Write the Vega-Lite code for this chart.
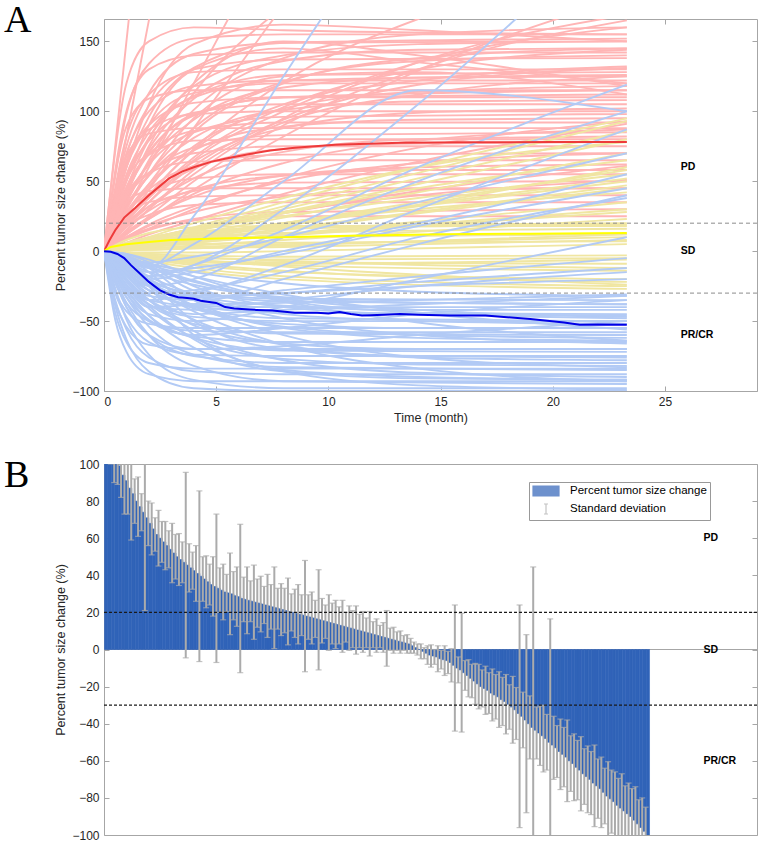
{
"$schema": "https://vega.github.io/schema/vega-lite/v6.json",
"padding": {"left": 3, "top": 1, "right": 0, "bottom": 0},
"spacing": 32,
"resolve": {"scale": {"color": "independent"}, "legend": {"color": "independent"}},
"config": {
 "view": {"stroke": "#A6A6A6", "strokeWidth": 1},
 "axis": {"labelFont": "Liberation Sans", "labelFontSize": 12, "labelColor": "#262626", "titleFont": "Liberation Sans", "titleFontSize": 12.5, "titleFontWeight": "normal", "titleColor": "#262626", "domain": false, "tickColor": "#A6A6A6", "tickSize": -5, "labelPadding": 10, "grid": false, "titlePadding": 4},
 "text": {"font": "Liberation Sans"}
},
"datasets": {
"pd": [
{"c":1,"t":0,"y":0},{"c":1,"t":1,"y":150},{"c":1,"t":2,"y":300},
{"c":2,"t":0,"y":0},{"c":2,"t":1,"y":82},{"c":2,"t":2,"y":165},{"c":2,"t":4,"y":330},
{"c":3,"t":0,"y":0},{"c":3,"t":1,"y":75},{"c":3,"t":2,"y":113},{"c":3,"t":4,"y":141},{"c":3,"t":8,"y":149},{"c":3,"t":23.3,"y":150},
{"c":4,"t":0,"y":0},{"c":4,"t":1,"y":60},{"c":4,"t":2,"y":96},{"c":4,"t":4,"y":131},{"c":4,"t":8,"y":149},{"c":4,"t":23.3,"y":152},
{"c":5,"t":0,"y":0},{"c":5,"t":1,"y":43},{"c":5,"t":2,"y":73},{"c":5,"t":4,"y":109},{"c":5,"t":8,"y":136},{"c":5,"t":14,"y":144},{"c":5,"t":23.3,"y":145},
{"c":6,"t":0,"y":0},{"c":6,"t":1,"y":31},{"c":6,"t":2,"y":55},{"c":6,"t":4,"y":88},{"c":6,"t":8,"y":121},{"c":6,"t":14,"y":136},{"c":6,"t":23.3,"y":140},
{"c":7,"t":0,"y":0},{"c":7,"t":1,"y":82},{"c":7,"t":2,"y":112},{"c":7,"t":4,"y":128},{"c":7,"t":8,"y":130},{"c":7,"t":23.3,"y":130},
{"c":8,"t":0,"y":0},{"c":8,"t":1,"y":50},{"c":8,"t":2,"y":81},{"c":8,"t":4,"y":111},{"c":8,"t":8,"y":126},{"c":8,"t":23.3,"y":128},
{"c":9,"t":0,"y":0},{"c":9,"t":1,"y":37},{"c":9,"t":2,"y":63},{"c":9,"t":4,"y":94},{"c":9,"t":8,"y":117},{"c":9,"t":14,"y":124},{"c":9,"t":23.3,"y":125},
{"c":10,"t":0,"y":0},{"c":10,"t":1,"y":60},{"c":10,"t":2,"y":90},{"c":10,"t":4,"y":113},{"c":10,"t":8,"y":120},{"c":10,"t":23.3,"y":120},
{"c":11,"t":0,"y":0},{"c":11,"t":1,"y":26},{"c":11,"t":2,"y":46},{"c":11,"t":4,"y":75},{"c":11,"t":8,"y":102},{"c":11,"t":14,"y":114},{"c":11,"t":23.3,"y":118},
{"c":12,"t":0,"y":0},{"c":12,"t":1,"y":89},{"c":12,"t":2,"y":109},{"c":12,"t":4,"y":115},{"c":12,"t":8,"y":115},{"c":12,"t":23.3,"y":115},
{"c":13,"t":0,"y":0},{"c":13,"t":1,"y":44},{"c":13,"t":2,"y":71},{"c":13,"t":4,"y":97},{"c":13,"t":8,"y":110},{"c":13,"t":23.3,"y":112},
{"c":14,"t":0,"y":0},{"c":14,"t":1,"y":32},{"c":14,"t":2,"y":54},{"c":14,"t":4,"y":81},{"c":14,"t":8,"y":101},{"c":14,"t":14,"y":107},{"c":14,"t":23.3,"y":108},
{"c":15,"t":0,"y":0},{"c":15,"t":1,"y":53},{"c":15,"t":2,"y":79},{"c":15,"t":4,"y":99},{"c":15,"t":8,"y":105},{"c":15,"t":23.3,"y":105},
{"c":16,"t":0,"y":0},{"c":16,"t":1,"y":23},{"c":16,"t":2,"y":40},{"c":16,"t":4,"y":64},{"c":16,"t":8,"y":88},{"c":16,"t":14,"y":99},{"c":16,"t":23.3,"y":102},
{"c":17,"t":0,"y":0},{"c":17,"t":1,"y":63},{"c":17,"t":2,"y":87},{"c":17,"t":4,"y":98},{"c":17,"t":8,"y":100},{"c":17,"t":23.3,"y":100},
{"c":18,"t":0,"y":0},{"c":18,"t":1,"y":39},{"c":18,"t":2,"y":62},{"c":18,"t":4,"y":85},{"c":18,"t":8,"y":96},{"c":18,"t":23.3,"y":98},
{"c":19,"t":0,"y":0},{"c":19,"t":1,"y":28},{"c":19,"t":2,"y":48},{"c":19,"t":4,"y":72},{"c":19,"t":8,"y":89},{"c":19,"t":14,"y":94},{"c":19,"t":23.3,"y":95},
{"c":20,"t":0,"y":0},{"c":20,"t":1,"y":46},{"c":20,"t":2,"y":69},{"c":20,"t":4,"y":86},{"c":20,"t":8,"y":92},{"c":20,"t":23.3,"y":92},
{"c":21,"t":0,"y":0},{"c":21,"t":1,"y":13},{"c":21,"t":2,"y":23},{"c":21,"t":4,"y":41},{"c":21,"t":8,"y":63},{"c":21,"t":14,"y":79},{"c":21,"t":23.3,"y":87},
{"c":22,"t":0,"y":0},{"c":22,"t":1,"y":68},{"c":22,"t":2,"y":84},{"c":22,"t":4,"y":88},{"c":22,"t":8,"y":88},{"c":22,"t":23.3,"y":88},
{"c":23,"t":0,"y":0},{"c":23,"t":1,"y":33},{"c":23,"t":2,"y":54},{"c":23,"t":4,"y":74},{"c":23,"t":8,"y":83},{"c":23,"t":23.3,"y":85},
{"c":24,"t":0,"y":0},{"c":24,"t":1,"y":18},{"c":24,"t":2,"y":32},{"c":24,"t":4,"y":52},{"c":24,"t":8,"y":71},{"c":24,"t":14,"y":80},{"c":24,"t":23.3,"y":82},
{"c":25,"t":0,"y":0},{"c":25,"t":1,"y":51},{"c":25,"t":2,"y":69},{"c":25,"t":4,"y":79},{"c":25,"t":8,"y":80},{"c":25,"t":23.3,"y":80},
{"c":26,"t":0,"y":0},{"c":26,"t":1,"y":23},{"c":26,"t":2,"y":39},{"c":26,"t":4,"y":59},{"c":26,"t":8,"y":73},{"c":26,"t":14,"y":77},{"c":26,"t":23.3,"y":78},
{"c":27,"t":0,"y":0},{"c":27,"t":1,"y":38},{"c":27,"t":2,"y":56},{"c":27,"t":4,"y":70},{"c":27,"t":8,"y":75},{"c":27,"t":23.3,"y":75},
{"c":28,"t":0,"y":0},{"c":28,"t":1,"y":10},{"c":28,"t":2,"y":19},{"c":28,"t":4,"y":32},{"c":28,"t":8,"y":50},{"c":28,"t":14,"y":63},{"c":28,"t":23.3,"y":70},
{"c":29,"t":0,"y":0},{"c":29,"t":1,"y":28},{"c":29,"t":2,"y":44},{"c":29,"t":4,"y":61},{"c":29,"t":8,"y":69},{"c":29,"t":23.3,"y":70},
{"c":30,"t":0,"y":0},{"c":30,"t":1,"y":41},{"c":30,"t":2,"y":56},{"c":30,"t":4,"y":64},{"c":30,"t":8,"y":65},{"c":30,"t":23.3,"y":65},
{"c":31,"t":0,"y":0},{"c":31,"t":1,"y":14},{"c":31,"t":2,"y":24},{"c":31,"t":4,"y":39},{"c":31,"t":8,"y":54},{"c":31,"t":14,"y":60},{"c":31,"t":23.3,"y":62},
{"c":32,"t":0,"y":0},{"c":32,"t":1,"y":17},{"c":32,"t":2,"y":29},{"c":32,"t":4,"y":44},{"c":32,"t":8,"y":54},{"c":32,"t":14,"y":58},{"c":32,"t":23.3,"y":58},
{"c":33,"t":0,"y":0},{"c":33,"t":1,"y":28},{"c":33,"t":2,"y":41},{"c":33,"t":4,"y":52},{"c":33,"t":8,"y":55},{"c":33,"t":23.3,"y":55},
{"c":34,"t":0,"y":0},{"c":34,"t":1,"y":20},{"c":34,"t":2,"y":32},{"c":34,"t":4,"y":43},{"c":34,"t":8,"y":49},{"c":34,"t":23.3,"y":50},
{"c":35,"t":0,"y":0},{"c":35,"t":1,"y":10},{"c":35,"t":2,"y":18},{"c":35,"t":4,"y":28},{"c":35,"t":8,"y":39},{"c":35,"t":14,"y":44},{"c":35,"t":23.3,"y":45},
{"c":36,"t":0,"y":0},{"c":36,"t":1,"y":25},{"c":36,"t":2,"y":35},{"c":36,"t":4,"y":39},{"c":36,"t":8,"y":40},{"c":36,"t":23.3,"y":40},
{"c":37,"t":0,"y":0},{"c":37,"t":1,"y":19},{"c":37,"t":2,"y":35},{"c":37,"t":4,"y":61},{"c":37,"t":8,"y":94},{"c":37,"t":14,"y":119},{"c":37,"t":23.3,"y":131},
{"c":38,"t":0,"y":0},{"c":38,"t":1,"y":35},{"c":38,"t":2,"y":63},{"c":38,"t":4,"y":101},{"c":38,"t":8,"y":138},{"c":38,"t":14,"y":155},{"c":38,"t":23.3,"y":160},
{"c":39,"t":0,"y":0},{"c":39,"t":1,"y":98},{"c":39,"t":2,"y":134},{"c":39,"t":4,"y":152},{"c":39,"t":8,"y":155},{"c":39,"t":23.3,"y":155},
{"c":40,"t":0,"y":0},{"c":40,"t":1,"y":69},{"c":40,"t":2,"y":104},{"c":40,"t":4,"y":130},{"c":40,"t":8,"y":137},{"c":40,"t":23.3,"y":138},
{"c":41,"t":0,"y":0},{"c":41,"t":1,"y":21},{"c":41,"t":2,"y":38},{"c":41,"t":4,"y":67},{"c":41,"t":8,"y":103},{"c":41,"t":14,"y":130},{"c":41,"t":23.3,"y":144},
{"c":42,"t":0,"y":0},{"c":42,"t":1,"y":40},{"c":42,"t":2,"y":75},{"c":42,"t":4,"y":120},{"c":42,"t":8,"y":150},{"c":42,"t":14,"y":140},{"c":42,"t":23.3,"y":118},
{"c":43,"t":0,"y":0},{"c":43,"t":1,"y":50},{"c":43,"t":2,"y":90},{"c":43,"t":4,"y":130},{"c":43,"t":8,"y":145},{"c":43,"t":14,"y":135},{"c":43,"t":23.3,"y":120},
{"c":44,"t":0,"y":0},{"c":44,"t":1,"y":30},{"c":44,"t":2,"y":55},{"c":44,"t":4,"y":95},{"c":44,"t":8,"y":125},{"c":44,"t":14,"y":128},{"c":44,"t":23.3,"y":112},
{"c":45,"t":0,"y":0},{"c":45,"t":1,"y":30},{"c":45,"t":2,"y":60},{"c":45,"t":4,"y":120},{"c":45,"t":8,"y":240},
{"c":46,"t":0,"y":0},{"c":46,"t":1,"y":22},{"c":46,"t":2,"y":44},{"c":46,"t":4,"y":88},{"c":46,"t":8,"y":176},
{"c":47,"t":0,"y":0},{"c":47,"t":1,"y":35},{"c":47,"t":2,"y":65},{"c":47,"t":4,"y":113},{"c":47,"t":8,"y":175},{"c":47,"t":14,"y":230},
{"c":48,"t":0,"y":0},{"c":48,"t":1,"y":21},{"c":48,"t":2,"y":40},{"c":48,"t":4,"y":73},{"c":48,"t":8,"y":121},{"c":48,"t":14,"y":166},{"c":48,"t":23.3,"y":199},
{"c":49,"t":0,"y":0},{"c":49,"t":1,"y":12},{"c":49,"t":2,"y":23},{"c":49,"t":4,"y":44},{"c":49,"t":8,"y":82},{"c":49,"t":14,"y":129},{"c":49,"t":23.3,"y":182},
{"c":50,"t":0,"y":0},{"c":50,"t":1,"y":15},{"c":50,"t":2,"y":30},{"c":50,"t":4,"y":55},{"c":50,"t":8,"y":95},{"c":50,"t":14,"y":135},{"c":50,"t":23.3,"y":169},
{"c":51,"t":0,"y":0},{"c":51,"t":1,"y":18},{"c":51,"t":2,"y":26},{"c":51,"t":4,"y":33},{"c":51,"t":8,"y":35},{"c":51,"t":23.3,"y":35},
{"c":52,"t":0,"y":0},{"c":52,"t":1,"y":9},{"c":52,"t":2,"y":15},{"c":52,"t":4,"y":23},{"c":52,"t":8,"y":28},{"c":52,"t":23.3,"y":30},
{"c":53,"t":0,"y":0},{"c":53,"t":1,"y":5},{"c":53,"t":2,"y":9},{"c":53,"t":4,"y":16},{"c":53,"t":8,"y":28},{"c":53,"t":14,"y":40},{"c":53,"t":23.3,"y":51},
{"c":54,"t":0,"y":0},{"c":54,"t":1,"y":4},{"c":54,"t":2,"y":8},{"c":54,"t":4,"y":15},{"c":54,"t":8,"y":27},{"c":54,"t":14,"y":43},{"c":54,"t":23.3,"y":61},
{"c":55,"t":0,"y":0},{"c":55,"t":1,"y":35},{"c":55,"t":2,"y":43},{"c":55,"t":4,"y":45},{"c":55,"t":8,"y":45},{"c":55,"t":23.3,"y":45},
{"c":56,"t":0,"y":0},{"c":56,"t":1,"y":8},{"c":56,"t":2,"y":16},{"c":56,"t":4,"y":30},{"c":56,"t":8,"y":52},{"c":56,"t":14,"y":74},{"c":56,"t":23.3,"y":93},
{"c":57,"t":0,"y":0},{"c":57,"t":1,"y":6},{"c":57,"t":2,"y":12},{"c":57,"t":4,"y":22},{"c":57,"t":8,"y":41},{"c":57,"t":14,"y":64},{"c":57,"t":23.3,"y":91},
{"c":58,"t":0,"y":0},{"c":58,"t":1,"y":10},{"c":58,"t":2,"y":16},{"c":58,"t":4,"y":22},{"c":58,"t":8,"y":25},{"c":58,"t":23.3,"y":25},
{"c":59,"t":0,"y":0},{"c":59,"t":1,"y":45},{"c":59,"t":2,"y":80},{"c":59,"t":4,"y":118},{"c":59,"t":8,"y":140},{"c":59,"t":14,"y":148},{"c":59,"t":23.3,"y":150},
{"c":60,"t":0,"y":0},{"c":60,"t":1,"y":25},{"c":60,"t":2,"y":48},{"c":60,"t":4,"y":85},{"c":60,"t":8,"y":120},{"c":60,"t":14,"y":138},{"c":60,"t":23.3,"y":145},
{"c":61,"t":0,"y":0},{"c":61,"t":1,"y":55},{"c":61,"t":2,"y":85},{"c":61,"t":4,"y":110},{"c":61,"t":8,"y":122},{"c":61,"t":23.3,"y":126},
{"c":62,"t":0,"y":0},{"c":62,"t":1,"y":20},{"c":62,"t":2,"y":40},{"c":62,"t":4,"y":72},{"c":62,"t":8,"y":105},{"c":62,"t":14,"y":122},{"c":62,"t":23.3,"y":132},
{"c":63,"t":0,"y":0},{"c":63,"t":1,"y":70},{"c":63,"t":2,"y":100},{"c":63,"t":4,"y":118},{"c":63,"t":8,"y":122},{"c":63,"t":23.3,"y":122},
{"c":64,"t":0,"y":0},{"c":64,"t":1,"y":15},{"c":64,"t":2,"y":30},{"c":64,"t":4,"y":58},{"c":64,"t":8,"y":92},{"c":64,"t":14,"y":112},{"c":64,"t":23.3,"y":125},
{"c":65,"t":0,"y":0},{"c":65,"t":1,"y":42},{"c":65,"t":2,"y":70},{"c":65,"t":4,"y":98},{"c":65,"t":8,"y":110},{"c":65,"t":23.3,"y":115},
{"c":66,"t":0,"y":0},{"c":66,"t":1,"y":65},{"c":66,"t":2,"y":90},{"c":66,"t":4,"y":106},{"c":66,"t":8,"y":110},{"c":66,"t":23.3,"y":110},
{"c":67,"t":0,"y":0},{"c":67,"t":1,"y":100},{"c":67,"t":2,"y":130},{"c":67,"t":4,"y":140},{"c":67,"t":8,"y":142},{"c":67,"t":23.3,"y":142},
{"c":68,"t":0,"y":0},{"c":68,"t":1,"y":120},{"c":68,"t":2,"y":150},{"c":68,"t":4,"y":160},{"c":68,"t":8,"y":158},{"c":68,"t":23.3,"y":155},
{"c":69,"t":0,"y":0},{"c":69,"t":1,"y":18},{"c":69,"t":2,"y":35},{"c":69,"t":4,"y":65},{"c":69,"t":8,"y":100},{"c":69,"t":14,"y":135},{"c":69,"t":23.3,"y":160},
{"c":70,"t":0,"y":0},{"c":70,"t":1,"y":12},{"c":70,"t":2,"y":25},{"c":70,"t":4,"y":50},{"c":70,"t":8,"y":90},{"c":70,"t":14,"y":130},{"c":70,"t":23.3,"y":165},
{"c":71,"t":0,"y":0},{"c":71,"t":1,"y":60},{"c":71,"t":2,"y":105},{"c":71,"t":4,"y":148},{"c":71,"t":8,"y":162},{"c":71,"t":14,"y":158},{"c":71,"t":23.3,"y":150}
],
"sd": [
{"c":1,"t":0,"y":0},{"c":1,"t":1,"y":2},{"c":1,"t":2,"y":4},{"c":1,"t":4,"y":8},{"c":1,"t":8,"y":16},{"c":1,"t":14,"y":28},{"c":1,"t":23.3,"y":47},
{"c":2,"t":0,"y":0},{"c":2,"t":1,"y":3},{"c":2,"t":2,"y":6},{"c":2,"t":4,"y":12},{"c":2,"t":8,"y":24},{"c":2,"t":14,"y":42},{"c":2,"t":23.3,"y":70},
{"c":3,"t":0,"y":0},{"c":3,"t":1,"y":4},{"c":3,"t":2,"y":8},{"c":3,"t":4,"y":16},{"c":3,"t":8,"y":32},{"c":3,"t":14,"y":56},{"c":3,"t":23.3,"y":93},
{"c":4,"t":0,"y":0},{"c":4,"t":1,"y":1},{"c":4,"t":2,"y":2},{"c":4,"t":4,"y":4},{"c":4,"t":8,"y":8},{"c":4,"t":23.3,"y":23},
{"c":5,"t":0,"y":0},{"c":5,"t":1,"y":1.5},{"c":5,"t":2,"y":3},{"c":5,"t":4,"y":6},{"c":5,"t":8,"y":12},{"c":5,"t":14,"y":21},{"c":5,"t":23.3,"y":35},
{"c":6,"t":0,"y":0},{"c":6,"t":1,"y":3.5},{"c":6,"t":2,"y":7},{"c":6,"t":4,"y":14},{"c":6,"t":8,"y":27},{"c":6,"t":14,"y":45},{"c":6,"t":23.3,"y":65},
{"c":7,"t":0,"y":0},{"c":7,"t":1,"y":5},{"c":7,"t":2,"y":9},{"c":7,"t":4,"y":15},{"c":7,"t":8,"y":25},{"c":7,"t":14,"y":38},{"c":7,"t":23.3,"y":55},
{"c":8,"t":0,"y":0},{"c":8,"t":1,"y":2.5},{"c":8,"t":2,"y":5},{"c":8,"t":4,"y":10},{"c":8,"t":8,"y":20},{"c":8,"t":14,"y":35},{"c":8,"t":23.3,"y":58},
{"c":9,"t":0,"y":0},{"c":9,"t":1,"y":4},{"c":9,"t":2,"y":7},{"c":9,"t":4,"y":12},{"c":9,"t":8,"y":20},{"c":9,"t":14,"y":30},{"c":9,"t":23.3,"y":42},
{"c":10,"t":0,"y":0},{"c":10,"t":1,"y":5},{"c":10,"t":2,"y":9},{"c":10,"t":4,"y":16},{"c":10,"t":8,"y":28},{"c":10,"t":14,"y":48},{"c":10,"t":23.3,"y":80},
{"c":11,"t":0,"y":0},{"c":11,"t":1,"y":0.5},{"c":11,"t":2,"y":1},{"c":11,"t":4,"y":2},{"c":11,"t":8,"y":4},{"c":11,"t":23.3,"y":12},
{"c":12,"t":0,"y":0},{"c":12,"t":1,"y":1},{"c":12,"t":2,"y":2},{"c":12,"t":4,"y":3},{"c":12,"t":8,"y":5},{"c":12,"t":23.3,"y":10},
{"c":13,"t":0,"y":0},{"c":13,"t":1,"y":-1},{"c":13,"t":2,"y":-2},{"c":13,"t":4,"y":-3},{"c":13,"t":8,"y":-4},{"c":13,"t":23.3,"y":-3},
{"c":14,"t":0,"y":0},{"c":14,"t":1,"y":-2},{"c":14,"t":2,"y":-4},{"c":14,"t":4,"y":-7},{"c":14,"t":8,"y":-10},{"c":14,"t":23.3,"y":-14},
{"c":15,"t":0,"y":0},{"c":15,"t":1,"y":-3},{"c":15,"t":2,"y":-6},{"c":15,"t":4,"y":-10},{"c":15,"t":8,"y":-15},{"c":15,"t":23.3,"y":-20},
{"c":16,"t":0,"y":0},{"c":16,"t":1,"y":-4},{"c":16,"t":2,"y":-7},{"c":16,"t":4,"y":-12},{"c":16,"t":8,"y":-18},{"c":16,"t":23.3,"y":-25},
{"c":17,"t":0,"y":0},{"c":17,"t":1,"y":-5},{"c":17,"t":2,"y":-9},{"c":17,"t":4,"y":-14},{"c":17,"t":8,"y":-20},{"c":17,"t":23.3,"y":-27},
{"c":18,"t":0,"y":0},{"c":18,"t":1,"y":-2},{"c":18,"t":2,"y":-3},{"c":18,"t":4,"y":-5},{"c":18,"t":8,"y":-6},{"c":18,"t":23.3,"y":-5},
{"c":19,"t":0,"y":0},{"c":19,"t":1,"y":3},{"c":19,"t":2,"y":5},{"c":19,"t":4,"y":8},{"c":19,"t":8,"y":10},{"c":19,"t":23.3,"y":12},
{"c":20,"t":0,"y":0},{"c":20,"t":1,"y":4},{"c":20,"t":2,"y":7},{"c":20,"t":4,"y":10},{"c":20,"t":8,"y":13},{"c":20,"t":23.3,"y":16},
{"c":21,"t":0,"y":0},{"c":21,"t":1,"y":5},{"c":21,"t":2,"y":9},{"c":21,"t":4,"y":13},{"c":21,"t":8,"y":16},{"c":21,"t":23.3,"y":19},
{"c":22,"t":0,"y":0},{"c":22,"t":1,"y":2},{"c":22,"t":2,"y":3},{"c":22,"t":4,"y":5},{"c":22,"t":8,"y":6},{"c":22,"t":23.3,"y":7},
{"c":23,"t":0,"y":0},{"c":23,"t":1,"y":-1},{"c":23,"t":2,"y":-1},{"c":23,"t":4,"y":-1},{"c":23,"t":8,"y":0},{"c":23,"t":23.3,"y":5},
{"c":24,"t":0,"y":0},{"c":24,"t":1,"y":-3},{"c":24,"t":2,"y":-5},{"c":24,"t":4,"y":-8},{"c":24,"t":8,"y":-9},{"c":24,"t":23.3,"y":-6},
{"c":25,"t":0,"y":0},{"c":25,"t":1,"y":6},{"c":25,"t":2,"y":10},{"c":25,"t":4,"y":14},{"c":25,"t":8,"y":17},{"c":25,"t":23.3,"y":20},
{"c":26,"t":0,"y":0},{"c":26,"t":1,"y":8},{"c":26,"t":2,"y":13},{"c":26,"t":4,"y":17},{"c":26,"t":8,"y":18},{"c":26,"t":23.3,"y":18},
{"c":27,"t":0,"y":0},{"c":27,"t":1,"y":2},{"c":27,"t":2,"y":4},{"c":27,"t":4,"y":7},{"c":27,"t":8,"y":12},{"c":27,"t":14,"y":19},{"c":27,"t":23.3,"y":30},
{"c":28,"t":0,"y":0},{"c":28,"t":1,"y":1},{"c":28,"t":2,"y":3},{"c":28,"t":4,"y":6},{"c":28,"t":8,"y":11},{"c":28,"t":14,"y":18},{"c":28,"t":23.3,"y":28},
{"c":29,"t":0,"y":0},{"c":29,"t":1,"y":3},{"c":29,"t":2,"y":6},{"c":29,"t":4,"y":11},{"c":29,"t":8,"y":20},{"c":29,"t":14,"y":33},{"c":29,"t":23.3,"y":52},
{"c":30,"t":0,"y":0},{"c":30,"t":1,"y":2},{"c":30,"t":2,"y":5},{"c":30,"t":4,"y":10},{"c":30,"t":8,"y":19},{"c":30,"t":14,"y":32},{"c":30,"t":23.3,"y":50},
{"c":31,"t":0,"y":0},{"c":31,"t":1,"y":-1},{"c":31,"t":2,"y":-3},{"c":31,"t":4,"y":-6},{"c":31,"t":8,"y":-11},{"c":31,"t":23.3,"y":-24},
{"c":32,"t":0,"y":0},{"c":32,"t":1,"y":1},{"c":32,"t":2,"y":1},{"c":32,"t":4,"y":2},{"c":32,"t":8,"y":3},{"c":32,"t":23.3,"y":8},
{"c":33,"t":0,"y":0},{"c":33,"t":1,"y":5},{"c":33,"t":2,"y":10},{"c":33,"t":4,"y":20},{"c":33,"t":8,"y":38},{"c":33,"t":14,"y":60},{"c":33,"t":23.3,"y":78},
{"c":34,"t":0,"y":0},{"c":34,"t":1,"y":4},{"c":34,"t":2,"y":8},{"c":34,"t":4,"y":17},{"c":34,"t":8,"y":35},{"c":34,"t":14,"y":60},{"c":34,"t":23.3,"y":95},
{"c":35,"t":0,"y":0},{"c":35,"t":1,"y":3},{"c":35,"t":2,"y":7},{"c":35,"t":4,"y":15},{"c":35,"t":8,"y":30},{"c":35,"t":14,"y":52},{"c":35,"t":23.3,"y":86},
{"c":36,"t":0,"y":0},{"c":36,"t":1,"y":-2},{"c":36,"t":2,"y":-5},{"c":36,"t":4,"y":-9},{"c":36,"t":8,"y":-14},{"c":36,"t":23.3,"y":-22},
{"c":37,"t":0,"y":0},{"c":37,"t":1,"y":-1},{"c":37,"t":2,"y":-2},{"c":37,"t":4,"y":-4},{"c":37,"t":8,"y":-7},{"c":37,"t":23.3,"y":-12},
{"c":38,"t":0,"y":0},{"c":38,"t":1,"y":-3},{"c":38,"t":2,"y":-5},{"c":38,"t":4,"y":-7},{"c":38,"t":8,"y":-8},{"c":38,"t":23.3,"y":-9},
{"c":39,"t":0,"y":0},{"c":39,"t":1,"y":2},{"c":39,"t":2,"y":4},{"c":39,"t":4,"y":9},{"c":39,"t":8,"y":18},{"c":39,"t":14,"y":33},{"c":39,"t":23.3,"y":60},
{"c":40,"t":0,"y":0},{"c":40,"t":1,"y":1},{"c":40,"t":2,"y":3},{"c":40,"t":4,"y":7},{"c":40,"t":8,"y":15},{"c":40,"t":14,"y":27},{"c":40,"t":23.3,"y":45}
],
"pr": [
{"c":1,"t":0,"y":0},{"c":1,"t":0.5,"y":-39},{"c":1,"t":1,"y":-63},{"c":1,"t":2,"y":-86},{"c":1,"t":4,"y":-98},{"c":1,"t":8,"y":-100},{"c":1,"t":23.3,"y":-100},
{"c":2,"t":0,"y":0},{"c":2,"t":1,"y":-49},{"c":2,"t":2,"y":-74},{"c":2,"t":4,"y":-92},{"c":2,"t":8,"y":-98},{"c":2,"t":23.3,"y":-98},
{"c":3,"t":0,"y":0},{"c":3,"t":1,"y":-37},{"c":3,"t":2,"y":-60},{"c":3,"t":4,"y":-82},{"c":3,"t":8,"y":-93},{"c":3,"t":23.3,"y":-95},
{"c":4,"t":0,"y":0},{"c":4,"t":1,"y":-27},{"c":4,"t":2,"y":-46},{"c":4,"t":4,"y":-69},{"c":4,"t":8,"y":-86},{"c":4,"t":14,"y":-91},{"c":4,"t":23.3,"y":-92},
{"c":5,"t":0,"y":0},{"c":5,"t":1,"y":-20},{"c":5,"t":2,"y":-35},{"c":5,"t":4,"y":-57},{"c":5,"t":8,"y":-78},{"c":5,"t":14,"y":-87},{"c":5,"t":23.3,"y":-90},
{"c":6,"t":0,"y":0},{"c":6,"t":0.5,"y":-35},{"c":6,"t":1,"y":-56},{"c":6,"t":2,"y":-76},{"c":6,"t":4,"y":-86},{"c":6,"t":8,"y":-88},{"c":6,"t":23.3,"y":-88},
{"c":7,"t":0,"y":0},{"c":7,"t":1,"y":-33},{"c":7,"t":2,"y":-54},{"c":7,"t":4,"y":-74},{"c":7,"t":8,"y":-83},{"c":7,"t":23.3,"y":-85},
{"c":8,"t":0,"y":0},{"c":8,"t":1,"y":-24},{"c":8,"t":2,"y":-41},{"c":8,"t":4,"y":-62},{"c":8,"t":8,"y":-77},{"c":8,"t":14,"y":-81},{"c":8,"t":23.3,"y":-82},
{"c":9,"t":0,"y":0},{"c":9,"t":1,"y":-40},{"c":9,"t":2,"y":-60},{"c":9,"t":4,"y":-75},{"c":9,"t":8,"y":-80},{"c":9,"t":23.3,"y":-80},
{"c":10,"t":0,"y":0},{"c":10,"t":1,"y":-17},{"c":10,"t":2,"y":-31},{"c":10,"t":4,"y":-49},{"c":10,"t":8,"y":-67},{"c":10,"t":14,"y":-76},{"c":10,"t":23.3,"y":-78},
{"c":11,"t":0,"y":0},{"c":11,"t":0.5,"y":-30},{"c":11,"t":1,"y":-47},{"c":11,"t":2,"y":-65},{"c":11,"t":4,"y":-74},{"c":11,"t":8,"y":-75},{"c":11,"t":23.3,"y":-75},
{"c":12,"t":0,"y":0},{"c":12,"t":1,"y":-28},{"c":12,"t":2,"y":-46},{"c":12,"t":4,"y":-62},{"c":12,"t":8,"y":-71},{"c":12,"t":23.3,"y":-72},
{"c":13,"t":0,"y":0},{"c":13,"t":1,"y":-21},{"c":13,"t":2,"y":-35},{"c":13,"t":4,"y":-53},{"c":13,"t":8,"y":-66},{"c":13,"t":14,"y":-70},{"c":13,"t":23.3,"y":-70},
{"c":14,"t":0,"y":0},{"c":14,"t":1,"y":-9},{"c":14,"t":2,"y":-18},{"c":14,"t":4,"y":-31},{"c":14,"t":8,"y":-48},{"c":14,"t":14,"y":-60},{"c":14,"t":23.3,"y":-66},
{"c":15,"t":0,"y":0},{"c":15,"t":1,"y":-33},{"c":15,"t":2,"y":-49},{"c":15,"t":4,"y":-61},{"c":15,"t":8,"y":-65},{"c":15,"t":23.3,"y":-65},
{"c":16,"t":0,"y":0},{"c":16,"t":1,"y":-14},{"c":16,"t":2,"y":-24},{"c":16,"t":4,"y":-39},{"c":16,"t":8,"y":-54},{"c":16,"t":14,"y":-60},{"c":16,"t":23.3,"y":-62},
{"c":17,"t":0,"y":0},{"c":17,"t":1,"y":-24},{"c":17,"t":2,"y":-38},{"c":17,"t":4,"y":-52},{"c":17,"t":8,"y":-59},{"c":17,"t":23.3,"y":-60},
{"c":18,"t":0,"y":0},{"c":18,"t":0.5,"y":-23},{"c":18,"t":1,"y":-37},{"c":18,"t":2,"y":-50},{"c":18,"t":4,"y":-57},{"c":18,"t":8,"y":-58},{"c":18,"t":23.3,"y":-58},
{"c":19,"t":0,"y":0},{"c":19,"t":1,"y":-16},{"c":19,"t":2,"y":-28},{"c":19,"t":4,"y":-41},{"c":19,"t":8,"y":-52},{"c":19,"t":14,"y":-55},{"c":19,"t":23.3,"y":-55},
{"c":20,"t":0,"y":0},{"c":20,"t":1,"y":-11},{"c":20,"t":2,"y":-20},{"c":20,"t":4,"y":-33},{"c":20,"t":8,"y":-45},{"c":20,"t":14,"y":-50},{"c":20,"t":23.3,"y":-52},
{"c":21,"t":0,"y":0},{"c":21,"t":1,"y":-25},{"c":21,"t":2,"y":-38},{"c":21,"t":4,"y":-47},{"c":21,"t":8,"y":-50},{"c":21,"t":23.3,"y":-50},
{"c":22,"t":0,"y":0},{"c":22,"t":1,"y":-7},{"c":22,"t":2,"y":-12},{"c":22,"t":4,"y":-22},{"c":22,"t":8,"y":-34},{"c":22,"t":14,"y":-42},{"c":22,"t":23.3,"y":-47},
{"c":23,"t":0,"y":0},{"c":23,"t":1,"y":-18},{"c":23,"t":2,"y":-28},{"c":23,"t":4,"y":-39},{"c":23,"t":8,"y":-44},{"c":23,"t":23.3,"y":-45},
{"c":24,"t":0,"y":0},{"c":24,"t":1,"y":-12},{"c":24,"t":2,"y":-21},{"c":24,"t":4,"y":-32},{"c":24,"t":8,"y":-39},{"c":24,"t":14,"y":-42},{"c":24,"t":23.3,"y":-42},
{"c":25,"t":0,"y":0},{"c":25,"t":0.5,"y":-16},{"c":25,"t":1,"y":-25},{"c":25,"t":2,"y":-35},{"c":25,"t":4,"y":-39},{"c":25,"t":8,"y":-40},{"c":25,"t":23.3,"y":-40},
{"c":26,"t":0,"y":0},{"c":26,"t":1,"y":-8},{"c":26,"t":2,"y":-15},{"c":26,"t":4,"y":-24},{"c":26,"t":8,"y":-33},{"c":26,"t":14,"y":-37},{"c":26,"t":23.3,"y":-38},
{"c":27,"t":0,"y":0},{"c":27,"t":1,"y":-14},{"c":27,"t":2,"y":-22},{"c":27,"t":4,"y":-30},{"c":27,"t":8,"y":-34},{"c":27,"t":23.3,"y":-35},
{"c":28,"t":0,"y":0},{"c":28,"t":1,"y":-5},{"c":28,"t":2,"y":-9},{"c":28,"t":4,"y":-15},{"c":28,"t":8,"y":-23},{"c":28,"t":14,"y":-29},{"c":28,"t":23.3,"y":-32},
{"c":29,"t":0,"y":0},{"c":29,"t":1,"y":-13},{"c":29,"t":2,"y":-25},{"c":29,"t":4,"y":-43},{"c":29,"t":8,"y":-67},{"c":29,"t":14,"y":-84},{"c":29,"t":23.3,"y":-93},
{"c":30,"t":0,"y":0},{"c":30,"t":1,"y":-22},{"c":30,"t":2,"y":-39},{"c":30,"t":4,"y":-63},{"c":30,"t":8,"y":-86},{"c":30,"t":14,"y":-96},{"c":30,"t":23.3,"y":-99},
{"c":31,"t":0,"y":0},{"c":31,"t":1,"y":-12},{"c":31,"t":2,"y":-22},{"c":31,"t":4,"y":-39},{"c":31,"t":8,"y":-60},{"c":31,"t":14,"y":-76},{"c":31,"t":23.3,"y":-83},
{"c":32,"t":0,"y":0},{"c":32,"t":1,"y":-5},{"c":32,"t":2,"y":-10},{"c":32,"t":4,"y":-18},{"c":32,"t":8,"y":-31},{"c":32,"t":14,"y":-44},{"c":32,"t":23.3,"y":-56},
{"c":33,"t":0,"y":0},{"c":33,"t":1,"y":-6},{"c":33,"t":2,"y":-11},{"c":33,"t":4,"y":-21},{"c":33,"t":8,"y":-36},{"c":33,"t":14,"y":-51},{"c":33,"t":23.3,"y":-64},
{"c":34,"t":0,"y":0},{"c":34,"t":0.5,"y":-49},{"c":34,"t":1,"y":-72},{"c":34,"t":2,"y":-88},{"c":34,"t":4,"y":-93},{"c":34,"t":8,"y":-93},{"c":34,"t":23.3,"y":-93},
{"c":35,"t":0,"y":0},{"c":35,"t":0.5,"y":-44},{"c":35,"t":1,"y":-65},{"c":35,"t":2,"y":-80},{"c":35,"t":4,"y":-84},{"c":35,"t":8,"y":-84},{"c":35,"t":23.3,"y":-84},
{"c":36,"t":0,"y":0},{"c":36,"t":0.5,"y":-37},{"c":36,"t":1,"y":-54},{"c":36,"t":2,"y":-67},{"c":36,"t":4,"y":-70},{"c":36,"t":8,"y":-70},{"c":36,"t":23.3,"y":-70},
{"c":37,"t":0,"y":0},{"c":37,"t":0.5,"y":-29},{"c":37,"t":1,"y":-43},{"c":37,"t":2,"y":-52},{"c":37,"t":4,"y":-55},{"c":37,"t":8,"y":-55},{"c":37,"t":23.3,"y":-55},
{"c":38,"t":0,"y":0},{"c":38,"t":1,"y":-5},{"c":38,"t":2,"y":-20},{"c":38,"t":4,"y":-50},{"c":38,"t":8,"y":-70},{"c":38,"t":14,"y":-75},{"c":38,"t":23.3,"y":-76},
{"c":39,"t":0,"y":0},{"c":39,"t":1,"y":-3},{"c":39,"t":2,"y":-12},{"c":39,"t":4,"y":-35},{"c":39,"t":8,"y":-55},{"c":39,"t":14,"y":-62},{"c":39,"t":23.3,"y":-64},
{"c":40,"t":0,"y":0},{"c":40,"t":1,"y":-4},{"c":40,"t":2,"y":-15},{"c":40,"t":4,"y":-40},{"c":40,"t":8,"y":-48},{"c":40,"t":23.3,"y":-50},
{"c":41,"t":0,"y":0},{"c":41,"t":1,"y":-2},{"c":41,"t":2,"y":-8},{"c":41,"t":4,"y":-25},{"c":41,"t":8,"y":-40},{"c":41,"t":14,"y":-45},{"c":41,"t":23.3,"y":-46},
{"c":42,"t":0,"y":0},{"c":42,"t":1,"y":-6},{"c":42,"t":2,"y":-25},{"c":42,"t":4,"y":-60},{"c":42,"t":8,"y":-85},{"c":42,"t":14,"y":-90},{"c":42,"t":23.3,"y":-92},
{"c":43,"t":0,"y":0},{"c":43,"t":1,"y":-2},{"c":43,"t":2,"y":-6},{"c":43,"t":4,"y":-18},{"c":43,"t":8,"y":-35},{"c":43,"t":14,"y":-44},{"c":43,"t":23.3,"y":-48},
{"c":44,"t":0,"y":0},{"c":44,"t":1,"y":-3},{"c":44,"t":2,"y":-10},{"c":44,"t":4,"y":-28},{"c":44,"t":8,"y":-36},{"c":44,"t":23.3,"y":-38},
{"c":45,"t":0,"y":0},{"c":45,"t":1,"y":-30},{"c":45,"t":2,"y":-50},{"c":45,"t":4,"y":-60},{"c":45,"t":8,"y":-55},{"c":45,"t":14,"y":-45},{"c":45,"t":23.3,"y":-35},
{"c":46,"t":0,"y":0},{"c":46,"t":1,"y":-20},{"c":46,"t":2,"y":-35},{"c":46,"t":4,"y":-45},{"c":46,"t":8,"y":-42},{"c":46,"t":14,"y":-38},{"c":46,"t":23.3,"y":-32},
{"c":47,"t":0,"y":0},{"c":47,"t":1,"y":-40},{"c":47,"t":2,"y":-60},{"c":47,"t":4,"y":-70},{"c":47,"t":8,"y":-68},{"c":47,"t":14,"y":-60},{"c":47,"t":23.3,"y":-50},
{"c":48,"t":0,"y":0},{"c":48,"t":1,"y":-15},{"c":48,"t":2,"y":-28},{"c":48,"t":4,"y":-38},{"c":48,"t":8,"y":-37},{"c":48,"t":14,"y":-35},{"c":48,"t":23.3,"y":-31},
{"c":49,"t":0,"y":0},{"c":49,"t":1,"y":-20},{"c":49,"t":2,"y":-32},{"c":49,"t":4,"y":-35},{"c":49,"t":8,"y":-28},{"c":49,"t":14,"y":-18},{"c":49,"t":23.3,"y":-5},
{"c":50,"t":0,"y":0},{"c":50,"t":1,"y":-15},{"c":50,"t":2,"y":-25},{"c":50,"t":4,"y":-32},{"c":50,"t":8,"y":-30},{"c":50,"t":14,"y":-22},{"c":50,"t":23.3,"y":-12},
{"c":51,"t":0,"y":0},{"c":51,"t":1,"y":-10},{"c":51,"t":2,"y":-22},{"c":51,"t":4,"y":-33},{"c":51,"t":8,"y":-30},{"c":51,"t":14,"y":-25},{"c":51,"t":23.3,"y":-20},
{"c":52,"t":0,"y":0},{"c":52,"t":1,"y":-25},{"c":52,"t":2,"y":-40},{"c":52,"t":4,"y":-42},{"c":52,"t":8,"y":-35},{"c":52,"t":14,"y":-25},{"c":52,"t":23.3,"y":-15},
{"c":53,"t":0,"y":0},{"c":53,"t":1,"y":-8},{"c":53,"t":2,"y":-12},{"c":53,"t":4,"y":25},{"c":53,"t":8,"y":125},{"c":53,"t":14,"y":270},
{"c":54,"t":0,"y":0},{"c":54,"t":1,"y":-10},{"c":54,"t":2,"y":-18},{"c":54,"t":4,"y":-10},{"c":54,"t":8,"y":30},{"c":54,"t":14,"y":105},{"c":54,"t":23.3,"y":240},
{"c":55,"t":0,"y":0},{"c":55,"t":1,"y":-15},{"c":55,"t":2,"y":-25},{"c":55,"t":4,"y":-20},{"c":55,"t":8,"y":10},{"c":55,"t":14,"y":50},{"c":55,"t":23.3,"y":100},
{"c":56,"t":0,"y":0},{"c":56,"t":1,"y":-10},{"c":56,"t":2,"y":-18},{"c":56,"t":4,"y":-10},{"c":56,"t":8,"y":15},{"c":56,"t":14,"y":60},{"c":56,"t":23.3,"y":119},
{"c":57,"t":0,"y":0},{"c":57,"t":1,"y":-20},{"c":57,"t":2,"y":-35},{"c":57,"t":4,"y":-30},{"c":57,"t":8,"y":-10},{"c":57,"t":14,"y":30},{"c":57,"t":23.3,"y":87},
{"c":58,"t":0,"y":0},{"c":58,"t":1,"y":-12},{"c":58,"t":2,"y":-20},{"c":58,"t":4,"y":-15},{"c":58,"t":8,"y":0},{"c":58,"t":14,"y":20},{"c":58,"t":23.3,"y":55},
{"c":59,"t":0,"y":0},{"c":59,"t":1,"y":-25},{"c":59,"t":2,"y":-40},{"c":59,"t":4,"y":-38},{"c":59,"t":8,"y":-20},{"c":59,"t":14,"y":5},{"c":59,"t":23.3,"y":40},
{"c":60,"t":0,"y":0},{"c":60,"t":1,"y":-6},{"c":60,"t":2,"y":-10},{"c":60,"t":4,"y":5},{"c":60,"t":8,"y":50},{"c":60,"t":14,"y":115},{"c":60,"t":23.3,"y":100},
{"c":61,"t":0,"y":0},{"c":61,"t":1,"y":-18},{"c":61,"t":2,"y":-30},{"c":61,"t":4,"y":-28},{"c":61,"t":8,"y":-15},{"c":61,"t":14,"y":10},{"c":61,"t":23.3,"y":38},
{"c":62,"t":0,"y":0},{"c":62,"t":1,"y":-10},{"c":62,"t":2,"y":-15},{"c":62,"t":4,"y":-12},{"c":62,"t":8,"y":-2},{"c":62,"t":14,"y":18},{"c":62,"t":23.3,"y":45},
{"c":63,"t":0,"y":0},{"c":63,"t":1,"y":-30},{"c":63,"t":2,"y":-45},{"c":63,"t":4,"y":-50},{"c":63,"t":8,"y":-40},{"c":63,"t":14,"y":-20},{"c":63,"t":23.3,"y":10},
{"c":64,"t":0,"y":0},{"c":64,"t":1,"y":-5},{"c":64,"t":2,"y":-8},{"c":64,"t":4,"y":-4},{"c":64,"t":8,"y":10},{"c":64,"t":14,"y":35},{"c":64,"t":23.3,"y":70}
],
"mr": [
{"t":0,"y":0},{"t":0.25,"y":8},{"t":0.5,"y":15},{"t":0.9,"y":24},{"t":1.4,"y":31},{"t":2,"y":40},{"t":2.9,"y":52},{"t":3.5,"y":57},{"t":4,"y":60},{"t":4.8,"y":64},{"t":5.5,"y":66.5},{"t":6.5,"y":69.5},{"t":7.4,"y":72},{"t":8.5,"y":74},{"t":10.3,"y":76},{"t":13.2,"y":77.5},{"t":16,"y":77.8},{"t":20,"y":78},{"t":23.3,"y":78}
],
"my": [
{"t":0,"y":0},{"t":0.3,"y":3},{"t":1,"y":5},{"t":2,"y":6.5},{"t":3,"y":8},{"t":5,"y":9},{"t":8,"y":10},{"t":11,"y":11},{"t":15,"y":12},{"t":19,"y":12.5},{"t":23.3,"y":13}
],
"mb": [
{"t":0,"y":0},{"t":0.3,"y":-0.5},{"t":0.6,"y":-2},{"t":0.9,"y":-5},{"t":1.2,"y":-10},{"t":1.6,"y":-16},{"t":2,"y":-22},{"t":2.5,"y":-28},{"t":2.9,"y":-31},{"t":3.3,"y":-33},{"t":3.7,"y":-33.5},{"t":4,"y":-34},{"t":4.3,"y":-35.5},{"t":5,"y":-37},{"t":5.4,"y":-40},{"t":5.8,"y":-41},{"t":6.3,"y":-41.5},{"t":6.8,"y":-42},{"t":7.5,"y":-42.5},{"t":8.5,"y":-44},{"t":9.5,"y":-44},{"t":10,"y":-44.5},{"t":10.5,"y":-43.5},{"t":11,"y":-45},{"t":11.5,"y":-46},{"t":12.5,"y":-45.5},{"t":13.2,"y":-45},{"t":14,"y":-45.5},{"t":15.4,"y":-46},{"t":17,"y":-46},{"t":19,"y":-48.5},{"t":20.5,"y":-51},{"t":21.2,"y":-52.7},{"t":22,"y":-52.5},{"t":23.3,"y":-52.7}
],
"bars": [
{"i":0,"v":135,"e":12},{"i":1,"v":122,"e":14},{"i":2,"v":112,"e":12},{"i":3,"v":105,"e":15},{"i":4,"v":99,"e":10},{"i":5,"v":94,"e":12},{"i":6,"v":91,"e":18},{"i":7,"v":87,"e":14},{"i":8,"v":84,"e":25},{"i":9,"v":80,"e":12},
{"i":10,"v":77,"e":16},{"i":11,"v":74,"e":10},{"i":12,"v":71,"e":50},{"i":13,"v":68,"e":12},{"i":14,"v":65,"e":14},{"i":15,"v":62,"e":9},{"i":16,"v":60,"e":15},{"i":17,"v":58,"e":11},{"i":18,"v":56,"e":13},{"i":19,"v":54,"e":10},
{"i":20,"v":52,"e":16},{"i":21,"v":50,"e":12},{"i":22,"v":48.5,"e":14},{"i":23,"v":47,"e":11},{"i":24,"v":45.5,"e":50},{"i":25,"v":44,"e":13},{"i":26,"v":42.5,"e":10},{"i":27,"v":41,"e":15},{"i":28,"v":39.5,"e":46},{"i":29,"v":38,"e":12},
{"i":30,"v":36.5,"e":14},{"i":31,"v":35,"e":11},{"i":32,"v":34,"e":16},{"i":33,"v":33,"e":40},{"i":34,"v":32,"e":12},{"i":35,"v":31,"e":15},{"i":36,"v":30.5,"e":10},{"i":37,"v":30,"e":22},{"i":38,"v":29,"e":13},{"i":39,"v":28.5,"e":16},
{"i":40,"v":27.5,"e":40},{"i":41,"v":27,"e":12},{"i":42,"v":26.5,"e":18},{"i":43,"v":26,"e":11},{"i":44,"v":25.5,"e":20},{"i":45,"v":25,"e":13},{"i":46,"v":24.5,"e":15},{"i":47,"v":24,"e":10},{"i":48,"v":23.5,"e":17},{"i":49,"v":23,"e":12},
{"i":50,"v":22.5,"e":22},{"i":51,"v":22,"e":11},{"i":52,"v":21.5,"e":14},{"i":53,"v":21,"e":12},{"i":54,"v":20.5,"e":18},{"i":55,"v":20,"e":10},{"i":56,"v":19.5,"e":13},{"i":57,"v":19,"e":16},{"i":58,"v":18.5,"e":11},{"i":59,"v":18,"e":30},
{"i":60,"v":17.5,"e":12},{"i":61,"v":17,"e":14},{"i":62,"v":16.5,"e":10},{"i":63,"v":16,"e":27},{"i":64,"v":15.5,"e":12},{"i":65,"v":15,"e":9},{"i":66,"v":14.5,"e":15},{"i":67,"v":14,"e":11},{"i":68,"v":13.5,"e":13},{"i":69,"v":13,"e":10},
{"i":70,"v":12.5,"e":14},{"i":71,"v":12,"e":8},{"i":72,"v":11.5,"e":12},{"i":73,"v":11,"e":10},{"i":74,"v":10.5,"e":13},{"i":75,"v":10,"e":9},{"i":76,"v":9.5,"e":11},{"i":77,"v":9,"e":8},{"i":78,"v":8.5,"e":12},{"i":79,"v":8,"e":7},
{"i":80,"v":7.5,"e":9},{"i":81,"v":7,"e":6},{"i":82,"v":6.5,"e":8},{"i":83,"v":6,"e":15},{"i":84,"v":5.5,"e":6},{"i":85,"v":5,"e":7},{"i":86,"v":4.5,"e":5},{"i":87,"v":4,"e":6},{"i":88,"v":3.5,"e":4},{"i":89,"v":3,"e":5},
{"i":90,"v":2,"e":4},{"i":91,"v":1,"e":3},{"i":92,"v":0,"e":3},{"i":93,"v":-1,"e":4},{"i":94,"v":-2,"e":3},{"i":95,"v":-3,"e":5},{"i":96,"v":-3.5,"e":6},{"i":97,"v":-4,"e":4},{"i":98,"v":-5,"e":7},{"i":99,"v":-5.5,"e":5},
{"i":100,"v":-6,"e":8},{"i":101,"v":-7,"e":6},{"i":102,"v":-8.5,"e":9},{"i":103,"v":-10,"e":34},{"i":104,"v":-11,"e":7},{"i":105,"v":-12.5,"e":32},{"i":106,"v":-14,"e":8},{"i":107,"v":-15.5,"e":10},{"i":108,"v":-17,"e":9},{"i":109,"v":-18.5,"e":11},
{"i":110,"v":-20,"e":12},{"i":111,"v":-21,"e":10},{"i":112,"v":-22,"e":13},{"i":113,"v":-23.5,"e":11},{"i":114,"v":-24.5,"e":14},{"i":115,"v":-25.5,"e":12},{"i":116,"v":-27,"e":15},{"i":117,"v":-28,"e":13},{"i":118,"v":-29.5,"e":16},{"i":119,"v":-31,"e":12},
{"i":120,"v":-32.5,"e":18},{"i":121,"v":-34.5,"e":14},{"i":122,"v":-36,"e":60},{"i":123,"v":-38,"e":15},{"i":124,"v":-40,"e":48},{"i":125,"v":-42,"e":17},{"i":126,"v":-43.5,"e":88},{"i":127,"v":-45,"e":14},{"i":128,"v":-46.5,"e":16},{"i":129,"v":-48,"e":18},
{"i":130,"v":-50,"e":15},{"i":131,"v":-51.5,"e":68},{"i":132,"v":-53,"e":17},{"i":133,"v":-55,"e":14},{"i":134,"v":-56.5,"e":19},{"i":135,"v":-58,"e":16},{"i":136,"v":-60,"e":22},{"i":137,"v":-61.5,"e":15},{"i":138,"v":-63.5,"e":18},{"i":139,"v":-65,"e":16},
{"i":140,"v":-67,"e":20},{"i":141,"v":-68.5,"e":15},{"i":142,"v":-70,"e":18},{"i":143,"v":-72,"e":17},{"i":144,"v":-73.5,"e":22},{"i":145,"v":-75,"e":16},{"i":146,"v":-77,"e":19},{"i":147,"v":-79,"e":15},{"i":148,"v":-80.5,"e":20},{"i":149,"v":-82,"e":17},
{"i":150,"v":-84,"e":18},{"i":151,"v":-85.5,"e":16},{"i":152,"v":-87,"e":20},{"i":153,"v":-88.5,"e":15},{"i":154,"v":-90,"e":18},{"i":155,"v":-92,"e":17},{"i":156,"v":-94,"e":20},{"i":157,"v":-96,"e":15},{"i":158,"v":-98,"e":18},{"i":159,"v":-101,"e":16}
]
},
"vconcat": [
{
 "width": 653, "height": 372,
 "resolve": {"axis": {"x": "independent", "y": "independent"}},
 "layer": [
  {"data": {"name": "pd"}, "mark": {"type": "line", "interpolate": "monotone", "clip": true, "color": "#FFB5B5", "strokeWidth": 1.9},
   "encoding": {
    "x": {"field": "t", "type": "quantitative", "scale": {"domain": [0, 29.1], "nice": false}, "axis": {"values": [0, 5, 10, 15, 20, 25], "title": "Time (month)"}},
    "y": {"field": "y", "type": "quantitative", "scale": {"domain": [-100, 166], "nice": false}, "axis": {"values": [-100, -50, 0, 50, 100, 150], "title": "Percent tumor size change (%)"}},
    "detail": {"field": "c"}}},
  {"data": {"name": "sd"}, "mark": {"type": "line", "interpolate": "monotone", "clip": true, "color": "#F0E6A2", "strokeWidth": 1.9},
   "encoding": {
    "x": {"field": "t", "type": "quantitative", "scale": {"domain": [0, 29.1], "nice": false}, "axis": null},
    "y": {"field": "y", "type": "quantitative", "scale": {"domain": [-100, 166], "nice": false}, "axis": null},
    "detail": {"field": "c"}}},
  {"data": {"name": "pr"}, "mark": {"type": "line", "interpolate": "monotone", "clip": true, "color": "#B2CAF5", "strokeWidth": 1.9},
   "encoding": {
    "x": {"field": "t", "type": "quantitative", "scale": {"domain": [0, 29.1], "nice": false}, "axis": null},
    "y": {"field": "y", "type": "quantitative", "scale": {"domain": [-100, 166], "nice": false}, "axis": null},
    "detail": {"field": "c"}}},
  {"data": {"name": "mr"}, "mark": {"type": "line", "clip": true, "color": "#EE3B3B", "strokeWidth": 2},
   "encoding": {
    "x": {"field": "t", "type": "quantitative", "scale": {"domain": [0, 29.1], "nice": false}, "axis": null},
    "y": {"field": "y", "type": "quantitative", "scale": {"domain": [-100, 166], "nice": false}, "axis": null}}},
  {"data": {"name": "my"}, "mark": {"type": "line", "clip": true, "color": "#FFFF00", "strokeWidth": 2},
   "encoding": {
    "x": {"field": "t", "type": "quantitative", "scale": {"domain": [0, 29.1], "nice": false}, "axis": null},
    "y": {"field": "y", "type": "quantitative", "scale": {"domain": [-100, 166], "nice": false}, "axis": null}}},
  {"data": {"name": "mb"}, "mark": {"type": "line", "clip": true, "color": "#0000E6", "strokeWidth": 2},
   "encoding": {
    "x": {"field": "t", "type": "quantitative", "scale": {"domain": [0, 29.1], "nice": false}, "axis": null},
    "y": {"field": "y", "type": "quantitative", "scale": {"domain": [-100, 166], "nice": false}, "axis": null}}},
  {"data": {"values": [{"r": 20}, {"r": -30}]}, "mark": {"type": "rule", "color": "#8C8C8C", "strokeWidth": 1, "strokeDash": [4, 3]},
   "encoding": {
    "y": {"field": "r", "type": "quantitative", "scale": {"domain": [-100, 166], "nice": false}, "axis": null}}},
  {"data": {"values": [{"t": -4.46, "y": 156.9, "s": "A"}]},
   "mark": {"type": "text", "align": "left", "baseline": "alphabetic", "font": "Liberation Serif", "fontSize": 38, "color": "#000000"},
   "encoding": {
    "x": {"field": "t", "type": "quantitative", "scale": {"domain": [0, 29.1], "nice": false}, "axis": null},
    "y": {"field": "y", "type": "quantitative", "scale": {"domain": [-100, 166], "nice": false}, "axis": null},
    "text": {"field": "s"}}},
  {"data": {"values": [{"t": 25.7, "y": 60, "s": "PD"}, {"t": 25.7, "y": 0, "s": "SD"}, {"t": 25.7, "y": -60, "s": "PR/CR"}]},
   "mark": {"type": "text", "align": "left", "baseline": "middle", "fontWeight": "bold", "fontSize": 10.5, "color": "#000000"},
   "encoding": {
    "x": {"field": "t", "type": "quantitative", "scale": {"domain": [0, 29.1], "nice": false}, "axis": {"orient": "top", "labels": false, "title": null, "values": [0, 5, 10, 15, 20, 25]}},
    "y": {"field": "y", "type": "quantitative", "scale": {"domain": [-100, 166], "nice": false}, "axis": {"orient": "right", "labels": false, "title": null, "values": [-100, -50, 0, 50, 100, 150]}},
    "text": {"field": "s"}}}
 ]
},
{
 "width": 653, "height": 371,
 "resolve": {"axis": {"y": "independent"}},
 "layer": [
  {"data": {"values": [{"r": 0}]}, "mark": {"type": "rule", "color": "#A6A6A6", "strokeWidth": 1},
   "encoding": {"y": {"field": "r", "type": "quantitative", "scale": {"domain": [-100, 100], "nice": false}, "axis": null}}},
  {"data": {"name": "bars"}, "mark": {"type": "bar", "clip": true, "binSpacing": 0, "stroke": "#3063B8", "strokeWidth": 0.6},
   "encoding": {
    "x": {"field": "i", "type": "quantitative", "bin": {"binned": true, "step": 1}, "scale": {"domain": [0, 191.7], "nice": false}, "axis": null},
    "y": {"field": "v", "type": "quantitative", "scale": {"domain": [-100, 100], "nice": false}, "axis": {"values": [-100, -80, -60, -40, -20, 0, 20, 40, 60, 80, 100], "title": "Percent tumor size change (%)"}},
    "color": {"datum": "Percent tumor size change", "type": "nominal",
      "scale": {"domain": ["Percent tumor size change", "Standard deviation"], "range": ["#3063B8", "#ABABAB"]},
      "legend": {"orient": "none", "legendX": 425, "legendY": 18, "title": null, "symbolSize": 100, "symbolOffset": 8, "symbolOpacity": 1,
        "symbolType": {"expr": "datum.value === 'Standard deviation' ? 'M0,-1V1M-0.4,-1H0.4M-0.4,1H0.4' : 'M-2.6,-1H2.6V1H-2.6Z'"},
        "symbolStrokeColor": {"expr": "datum.value === 'Standard deviation' ? '#A0A0A0' : '#3063B8'"},
        "symbolStrokeWidth": 1.2,
        "labelFont": "Liberation Sans", "labelFontSize": 11.5, "labelColor": "#000000", "strokeColor": "#999999", "fillColor": "#FFFFFF", "padding": 3, "rowPadding": 2, "labelOffset": 18}}}},
  {"data": {"name": "bars"}, "mark": {"type": "errorbar", "ticks": {"size": 6, "thickness": 1.2}, "thickness": 2, "clip": true},
   "encoding": {
    "x": {"field": "i", "type": "quantitative", "scale": {"domain": [0, 191.7], "nice": false}, "axis": null},
    "y": {"field": "v", "type": "quantitative", "scale": {"domain": [-100, 100], "nice": false}, "axis": null},
    "yError": {"field": "e"},
    "color": {"datum": "Standard deviation", "type": "nominal"}}},
  {"data": {"values": [{"r": 20}, {"r": -30}]}, "mark": {"type": "rule", "color": "#1A1A1A", "strokeWidth": 1.2, "strokeDash": [3, 2]},
   "encoding": {"y": {"field": "r", "type": "quantitative", "scale": {"domain": [-100, 100], "nice": false}, "axis": null}}},
  {"data": {"values": [{"i": -29.36, "v": 87.8, "s": "B"}]},
   "mark": {"type": "text", "align": "left", "baseline": "alphabetic", "font": "Liberation Serif", "fontSize": 38, "color": "#000000"},
   "encoding": {
    "x": {"field": "i", "type": "quantitative", "scale": {"domain": [0, 191.7], "nice": false}, "axis": null},
    "y": {"field": "v", "type": "quantitative", "scale": {"domain": [-100, 100], "nice": false}, "axis": null},
    "text": {"field": "s"}}},
  {"data": {"values": [{"i": 176, "v": 60, "s": "PD"}, {"i": 176, "v": 0, "s": "SD"}, {"i": 176, "v": -60, "s": "PR/CR"}]},
   "mark": {"type": "text", "align": "left", "baseline": "middle", "fontWeight": "bold", "fontSize": 10.5, "color": "#000000"},
   "encoding": {
    "x": {"field": "i", "type": "quantitative", "scale": {"domain": [0, 191.7], "nice": false}, "axis": null},
    "y": {"field": "v", "type": "quantitative", "scale": {"domain": [-100, 100], "nice": false}, "axis": {"orient": "right", "labels": false, "title": null, "values": [-100, -80, -60, -40, -20, 0, 20, 40, 60, 80, 100]}},
    "text": {"field": "s"}}}
 ]
}
]
}
